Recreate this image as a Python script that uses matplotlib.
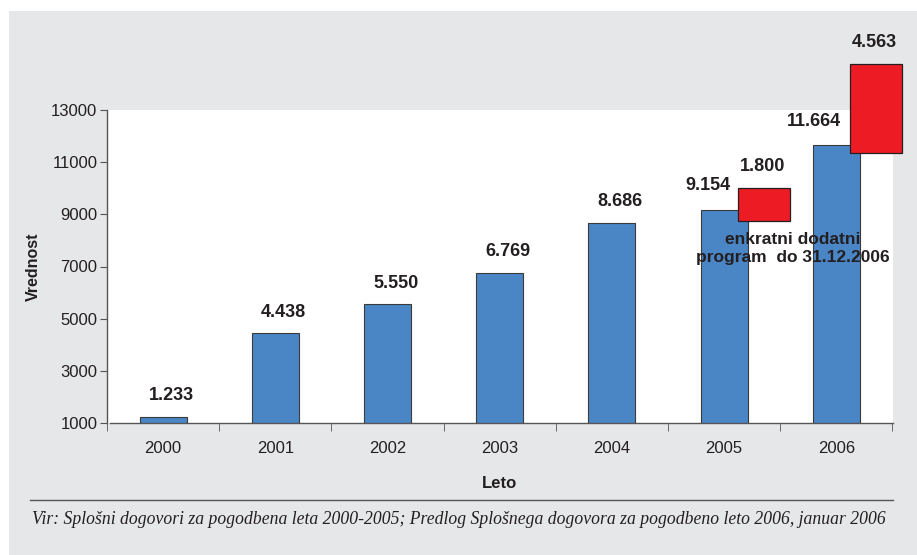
import matplotlib.pyplot as plt
from matplotlib.patches import Rectangle

plt.rcParams['font.family'] = ['Liberation Sans', 'DejaVu Sans']

years = ['2000', '2001', '2002', '2003', '2004', '2005', '2006']
values = [1233, 4438, 5550, 6769, 8686, 9154, 11664]
value_labels = ['1.233', '4.438', '5.550', '6.769', '8.686', '9.154', '11.664']

# extra one-off amounts (drawn as boxes, not to scale in the original)
extra_idx = [5, 6]
extra_labels = ['1.800', '4.563']
extra_bottom = [8750, 11350]
extra_top = [10010, 14770]

note = 'enkratni dodatni\nprogram  do 31.12.2006'
source = ('Vir: Splošni dogovori za pogodbena leta 2000-2005; '
          'Predlog Splošnega dogovora za pogodbeno leto 2006, januar 2006')

BLUE = '#4a86c6'
RED = '#ed1c24'
BG = '#e6e7e8'
DARK = '#231f20'

fig = plt.figure(figsize=(9.17, 5.55), dpi=100)
fig.patch.set_facecolor('white')
fig.patches.append(Rectangle((9 / 917, 0), 1, 1 - 11 / 555, transform=fig.transFigure,
                             facecolor=BG, edgecolor='none', zorder=-10))

ax = fig.add_axes([107 / 917, 132 / 555, 786 / 917, 313 / 555])
x = list(range(len(years)))
ax.bar(x, values, width=0.42, bottom=0, color=BLUE, edgecolor='#3a3a3a', linewidth=0.8, zorder=2)
ax.set_xlim(-0.47, 6.505)
ax.set_ylim(1000, 13000)
ax.set_yticks(range(1000, 13001, 2000))
ax.set_xticks(x)
ax.set_xticklabels(years, fontsize=12, color=DARK)
ax.tick_params(axis='x', length=0, pad=13)
ax.set_xticks([i + 0.5 for i in range(-1, 7)], minor=True)
ax.tick_params(axis='x', which='minor', length=6, direction='out', color='#555555')
ax.tick_params(axis='y', length=5, direction='out', color='#555555', labelsize=12, labelcolor=DARK, pad=2)
for s in ['top', 'right']:
    ax.spines[s].set_visible(False)
for s in ['left', 'bottom']:
    ax.spines[s].set_color('#555555')
    ax.spines[s].set_linewidth(1.0)
ax.spines['bottom'].set_bounds(-0.47, 6.505)

ax.set_ylabel('Vrednost', fontsize=11.5, fontweight='bold', color=DARK, labelpad=7)
ax.set_xlabel('Leto', fontsize=12, fontweight='bold', color=DARK, labelpad=14)

# value labels above bars
for i, (v, lab) in enumerate(zip(values, value_labels)):
    dx = 6 if i < 5 else -12
    dy = 9 if i < 5 else 12
    if i == 6:
        dx, dy = -16, 11
    ax.annotate(lab, (i, v), xytext=(dx, dy), textcoords='offset points',
                ha='center', va='bottom', fontsize=13, fontweight='bold', color=DARK)

# red boxes for the extra amounts
for i, b, t, lab in zip(extra_idx, extra_bottom, extra_top, extra_labels):
    r = Rectangle((i + 0.12, b), 0.465, t - b, facecolor=RED, edgecolor=DARK,
                  linewidth=0.9, clip_on=False, zorder=3)
    ax.add_patch(r)
    ax.annotate(lab, (i + 0.34, t), xytext=(0, 9), textcoords='offset points',
                ha='center', va='bottom', fontsize=13, fontweight='bold', color=DARK,
                annotation_clip=False)

ax.text(5.61, 8330, note, ha='center', va='top', fontsize=12.5, fontweight='bold',
        color=DARK, linespacing=1.3, zorder=4)

# separator and source line
fig.add_artist(plt.Line2D([30 / 917, 893 / 917], [1 - 500 / 555] * 2, color='#555555', linewidth=1.0))
fig.text(32 / 917, 1 - 520 / 555, source, fontsize=12.7, style='italic',
         family=['Liberation Serif', 'DejaVu Serif'], color=DARK, va='center', ha='left')

fig.savefig('out.png', dpi=100, facecolor=fig.get_facecolor())
